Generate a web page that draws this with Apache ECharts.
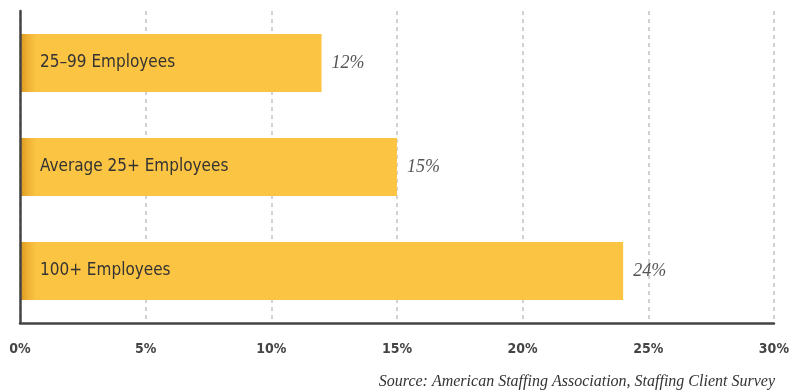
<!DOCTYPE html>
<html>
<head>
<meta charset="utf-8">
<style>
  html, body { margin: 0; padding: 0; background: #fff; }
  #chart { width: 792px; height: 392px; }
</style>
<script src="https://cdn.jsdelivr.net/npm/echarts@6/dist/echarts.min.js"></script>
</head>
<body>
<div id="chart"></div>
<script>
var categories = ['25\u201399 Employees', 'Average 25+ Employees', '100+ Employees'];
var values = [12, 15, 24];
var tickLabels = ['0%', '5%', '10%', '15%', '20%', '25%', '30%'];

var chartDom = document.getElementById('chart');
var myChart = echarts.init(chartDom);
var option;

var barColor = new echarts.graphic.LinearGradient(20, 0, 36, 0, [
    { offset: 0, color: '#D8961E' },
    { offset: 0.45, color: '#EEB033' },
    { offset: 1, color: '#FCC443' }
], true);

option = {
    animation: false,
    grid: { left: 20, right: 17, top: 11, bottom: 69 },
    xAxis: {
        type: 'value',
        min: 0,
        max: 30,
        interval: 5,
        axisLine: { show: true, lineStyle: { color: '#444', width: 2.5 } },
        axisTick: { show: false },
        axisLabel: {
            margin: 19,
            color: '#444',
            fontFamily: 'DejaVu Sans Condensed',
            fontWeight: 'bold',
            fontSize: 14,
            formatter: function (v) { return tickLabels[v / 5]; }
        },
        splitLine: { show: true, lineStyle: { color: '#c4c4c4', type: [4, 4], width: 1.5 } }
    },
    yAxis: {
        type: 'category',
        data: categories,
        inverse: true,
        axisLine: { show: true, lineStyle: { color: '#444', width: 2.5 } },
        axisTick: { show: false },
        axisLabel: {
            inside: true,
            margin: 20,
            color: '#333',
            fontFamily: 'DejaVu Sans Condensed',
            fontSize: 17
        },
        z: 10
    },
    series: [
        {
            type: 'bar',
            data: values,
            barWidth: 58,
            itemStyle: { color: barColor },
            label: {
                show: true,
                position: 'right',
                distance: 10,
                formatter: '{c}%',
                color: '#555',
                fontFamily: 'Liberation Serif',
                fontStyle: 'italic',
                fontSize: 18
            }
        }
    ],
    title: {
        text: 'Source: American Staffing Association, Staffing Client Survey',
        right: 12,
        top: 369,
        textStyle: {
            fontFamily: 'Liberation Serif',
            fontStyle: 'italic',
            fontWeight: 'normal',
            fontSize: 16,
            color: '#333'
        }
    }
};

option && myChart.setOption(option);
window.addEventListener('resize', function () {
    myChart.resize();
});
</script>
</body>
</html>
